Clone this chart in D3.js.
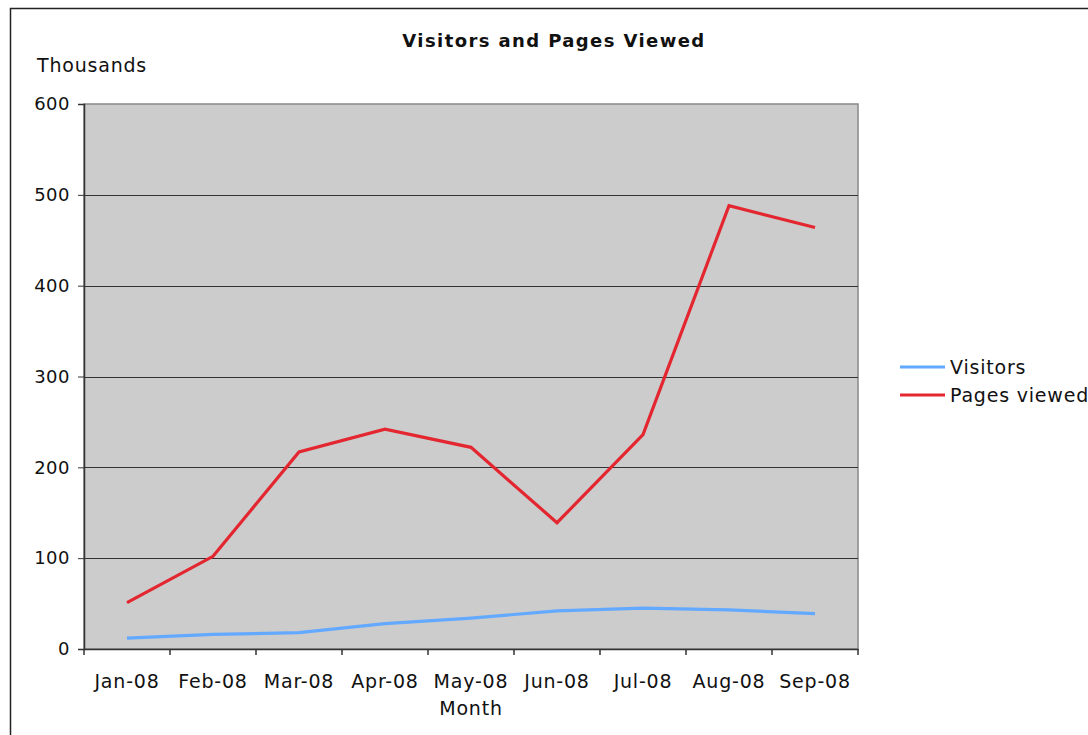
<!DOCTYPE html>
<html>
<head>
<meta charset="UTF-8">
<title>Visitors and Pages Viewed</title>
<style>
  body { margin: 0; background: #fff; }
  text { font-family: "DejaVu Sans", Verdana, sans-serif; fill: #111; }
</style>
</head>
<body>
<div id="chart"></div>
<script src="https://d3js.org/d3.v7.min.js"></script>
<script>
var months = ["Jan-08", "Feb-08", "Mar-08", "Apr-08", "May-08", "Jun-08", "Jul-08", "Aug-08", "Sep-08"];
var visitors = [12, 16, 18, 28, 34, 42, 45, 43, 39];
var pagesViewed = [51, 102, 217, 242, 222, 139, 236, 488, 464];
var yTicks = [0, 100, 200, 300, 400, 500, 600];
var seriesNames = ["Visitors", "Pages viewed"];
var seriesColors = ["#63a9ff", "#e3262f"];

var width = 1088, height = 735;
var plot = { left: 84, top: 104, right: 858, bottom: 649 };
var labelSize = "19px", labelSpacing = "0.8px";

var svg = d3.select("#chart").append("svg")
    .attr("width", width)
    .attr("height", height);

// outer chart border
svg.append("rect")
    .attr("x", 10.5).attr("y", 8.5)
    .attr("width", width + 20).attr("height", height + 20)
    .attr("fill", "none")
    .attr("stroke", "#222")
    .attr("stroke-width", 1.5);

var x = d3.scaleBand()
    .domain(months)
    .range([plot.left, plot.right]);

var y = d3.scaleLinear()
    .domain([0, 600])
    .range([plot.bottom, plot.top]);

// plot area
svg.append("rect")
    .attr("x", plot.left).attr("y", plot.top)
    .attr("width", plot.right - plot.left)
    .attr("height", plot.bottom - plot.top)
    .attr("fill", "#cccccc")
    .attr("stroke", "#888")
    .attr("stroke-width", 1.5);

// gridlines
svg.append("g")
    .selectAll("line")
    .data(yTicks.filter(function(d) { return d > 0 && d < 600; }))
    .join("line")
    .attr("x1", plot.left).attr("x2", plot.right)
    .attr("y1", function(d) { return Math.round(y(d)) + 0.5; })
    .attr("y2", function(d) { return Math.round(y(d)) + 0.5; })
    .attr("stroke", "#333")
    .attr("stroke-width", 1);

// y axis
var yAxis = svg.append("g")
    .attr("transform", "translate(" + plot.left + ",0)")
    .call(d3.axisLeft(y).tickValues(yTicks).tickSize(6).tickPadding(8));
yAxis.select(".domain").attr("stroke", "#333").attr("stroke-width", 1.5);
yAxis.selectAll(".tick line").attr("stroke", "#333");
yAxis.selectAll("text")
    .style("font-size", "18px")
    .style("letter-spacing", "0.5px")
    .attr("fill", "#111");

// x axis, ticks between categories
var xAxis = svg.append("g")
    .attr("transform", "translate(0," + plot.bottom + ")")
    .call(d3.axisBottom(x).tickSize(0).tickPadding(26));
xAxis.select(".domain").attr("stroke", "#333").attr("stroke-width", 1.5);
xAxis.selectAll("text")
    .style("font-size", labelSize)
    .style("letter-spacing", labelSpacing)
    .attr("fill", "#111");
xAxis.append("g")
    .selectAll("line")
    .data(months.concat(["end"]))
    .join("line")
    .attr("x1", function(d, i) { return plot.left + i * x.step(); })
    .attr("x2", function(d, i) { return plot.left + i * x.step(); })
    .attr("y1", 0).attr("y2", 6)
    .attr("stroke", "#333")
    .attr("stroke-width", 1.5);

// titles
svg.append("text")
    .attr("x", 554).attr("y", 47)
    .attr("text-anchor", "middle")
    .style("font-size", "18px")
    .style("font-weight", "bold")
    .style("letter-spacing", "1.4px")
    .text("Visitors and Pages Viewed");

svg.append("text")
    .attr("x", 37).attr("y", 72)
    .style("font-size", labelSize)
    .style("letter-spacing", labelSpacing)
    .text("Thousands");

svg.append("text")
    .attr("x", (plot.left + plot.right) / 2).attr("y", 715)
    .attr("text-anchor", "middle")
    .style("font-size", labelSize)
    .style("letter-spacing", labelSpacing)
    .text("Month");

// series lines
var line = d3.line()
    .x(function(d, i) { return x(months[i]) + x.bandwidth() / 2; })
    .y(function(d) { return y(d); });

var series = [visitors, pagesViewed];
svg.append("g")
    .selectAll("path")
    .data(series)
    .join("path")
    .attr("d", line)
    .attr("fill", "none")
    .attr("stroke", function(d, i) { return seriesColors[i]; })
    .attr("stroke-width", 3.2)
    .attr("stroke-linejoin", "miter");

// legend
var legend = svg.append("g")
    .selectAll("g")
    .data(seriesNames)
    .join("g")
    .attr("transform", function(d, i) { return "translate(900," + (367 + i * 28) + ")"; });
legend.append("line")
    .attr("x1", 0).attr("x2", 45)
    .attr("stroke", function(d, i) { return seriesColors[i]; })
    .attr("stroke-width", 3.2);
legend.append("text")
    .attr("x", 50).attr("dy", "0.35em")
    .style("font-size", labelSize)
    .style("letter-spacing", labelSpacing)
    .text(function(d) { return d; });
</script>
</body>
</html>
